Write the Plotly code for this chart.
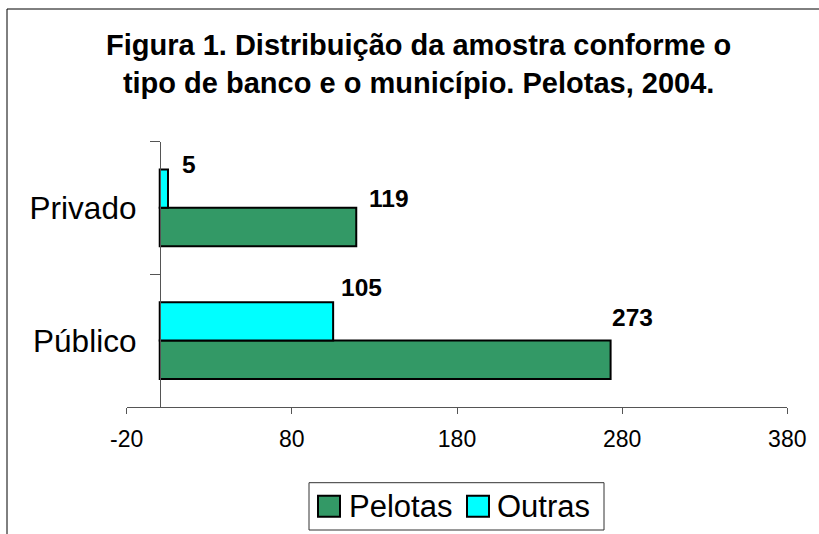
import plotly.graph_objects as go

# ---- data ----
categories = ["Público", "Privado"]
series_names = ["Pelotas", "Outras"]
pelotas = [273, 119]
outras = [105, 5]
x_tickvals = [-20, 80, 180, 280, 380]
x_ticktext = ["-20", "80", "180", "280", "380"]
title_text = "Figura 1. Distribuição da amostra conforme o<br>tipo de banco e o município. Pelotas, 2004."

# ---- style ----
W, H = 819, 534
colors = ["#339966", "#00FFFF"]
FONT = "Arial, Liberation Sans, sans-serif"

def px_x(p):
    return p / W

def px_y(p):
    return 1 - p / H

x_dom = [px_x(126.7), px_x(787.3)]
y_dom = [px_y(407), px_y(141.5)]
x_range = [-20, 380]
zero_pos = x_dom[0] + (0 - x_range[0]) / (x_range[1] - x_range[0]) * (x_dom[1] - x_dom[0])

fig = go.Figure()
for name, vals, col in zip(series_names, [pelotas, outras], colors):
    fig.add_trace(go.Bar(
        y=categories, x=vals, name=name, orientation="h",
        marker=dict(color=col, line=dict(color="black", width=2)),
        showlegend=False, hoverinfo="x+y+name",
    ))

# data labels (offsets in px from bar end / bar centre)
bar_half = (1 - 0.422) / 4
label_shifts = {
    ("Pelotas", 0): (22, 42), ("Pelotas", 1): (33, 29),
    ("Outras", 0): (28, 34), ("Outras", 1): (21, 24),
}
annotations = []
for si, (name, vals) in enumerate(zip(series_names, [pelotas, outras])):
    off = -bar_half if si == 0 else bar_half
    for ci, v in enumerate(vals):
        xs, ys = label_shifts[(name, ci)]
        annotations.append(dict(
            x=v, y=ci + off, xref="x", yref="y", text=f"<b>{v}</b>",
            showarrow=False, xanchor="center", yanchor="middle",
            xshift=xs, yshift=ys, font=dict(family=FONT, size=24.5, color="black"),
        ))

# title as annotation
annotations.append(dict(x=px_x(419), y=px_y(64), xref="paper", yref="paper",
                        text=f"<b>{title_text}</b>", showarrow=False,
                        xanchor="center", yanchor="middle",
                        font=dict(family=FONT, size=29, color="black")))

# frame and manual legend
shapes = [
    dict(type="rect", xref="paper", yref="paper", x0=px_x(7), x1=1.2, y0=-0.2, y1=px_y(9),
         line=dict(color="black", width=1), fillcolor="rgba(0,0,0,0)", layer="below"),
    dict(type="rect", xref="paper", yref="paper", x0=px_x(309), x1=px_x(604),
         y0=px_y(530), y1=px_y(482.7), line=dict(color="#333", width=1)),
]
leg_sq_x = [318, 467]
leg_tx_x = [349, 497]
for name, col, sx, tx in zip(series_names, colors, leg_sq_x, leg_tx_x):
    shapes.append(dict(type="rect", xref="paper", yref="paper", x0=px_x(sx), x1=px_x(sx + 22),
                       y0=px_y(516.7), y1=px_y(495.7), fillcolor=col,
                       line=dict(color="black", width=2)))
    annotations.append(dict(x=px_x(tx - 2), y=px_y(506.5), xref="paper", yref="paper",
                            text=name, showarrow=False, xanchor="left", yanchor="middle",
                            font=dict(family=FONT, size=31, color="black")))

fig.update_layout(
    width=W, height=H,
    margin=dict(l=0, r=0, t=0, b=0),
    paper_bgcolor="white", plot_bgcolor="white",
    barmode="group", bargap=0.422, bargroupgap=0,
    showlegend=False,
    xaxis=dict(domain=x_dom, range=x_range, tickvals=x_tickvals, ticktext=x_ticktext,
               showgrid=False, zeroline=False, showline=True, linecolor="#555", linewidth=1,
               ticks="outside", ticklen=6, tickcolor="#555", anchor="y",
               tickfont=dict(family=FONT, size=23, color="black"),
               ticklabelstandoff=5, automargin=False, fixedrange=True),
    yaxis=dict(domain=y_dom, type="category", range=[-0.5, 1.5], anchor="free",
               position=zero_pos, showgrid=False, zeroline=False, showline=True,
               linecolor="#555", linewidth=1, ticks="outside", ticklen=10,
               tickcolor="#555", tickson="boundaries",
               tickfont=dict(family=FONT, size=31.5, color="black"),
               ticklabelstandoff=17, automargin=False, fixedrange=True),
    annotations=annotations, shapes=shapes,
)

fig.write_html("out.html", config={"displayModeBar": False},
               post_script="document.body.style.margin='0';document.body.style.overflow='hidden';")
